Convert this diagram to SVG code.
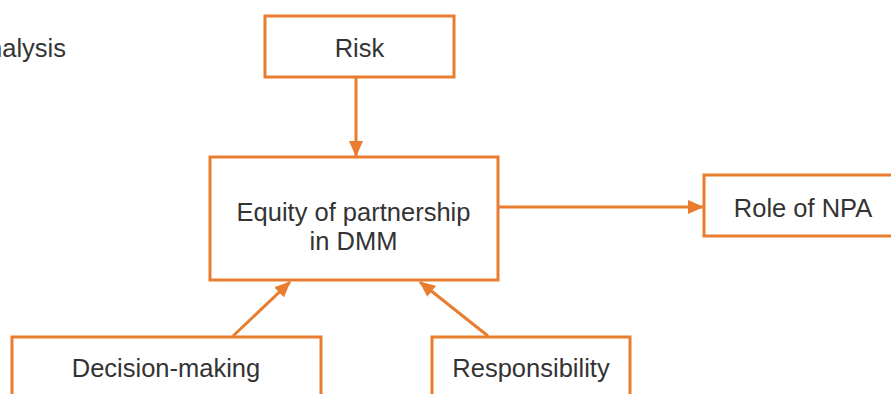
<svg xmlns="http://www.w3.org/2000/svg" width="891" height="394" viewBox="0 0 891 394">
<style>
.box{fill:#fff;stroke:#E97D2F;stroke-width:3}
.lbl{font-family:"Liberation Sans",Arial,sans-serif;font-size:25.5px;fill:#333;text-anchor:middle}
.conn{stroke:#E97D2F;stroke-width:3;fill:none;marker-end:url(#ah)}
</style>
<defs>
<marker id="ah" markerUnits="userSpaceOnUse" markerWidth="16" markerHeight="14" refX="15" refY="7" orient="auto">
<path d="M0,0 L16,7 L0,14 Z" fill="#E97D2F"/>
</marker>
</defs>
<rect width="891" height="394" fill="#fff"/>
<text class="lbl" x="66" y="57" style="text-anchor:end">analysis</text>
<g id="connectors">
<line class="conn" x1="356" y1="78" x2="356" y2="156"/>
<line class="conn" x1="498" y1="207" x2="703" y2="207"/>
<line class="conn" x1="233" y1="336" x2="290" y2="282"/>
<line class="conn" x1="488" y1="336" x2="420" y2="282"/>
</g>
<g id="risk">
<rect class="box" x="265" y="16" width="189" height="61"/>
<text class="lbl" x="359.5" y="57">Risk</text>
</g>
<g id="equity">
<rect class="box" x="210" y="157" width="288" height="123"/>
<text class="lbl" x="353.5" y="221">Equity of partnership</text>
<text class="lbl" x="353.5" y="250">in DMM</text>
</g>
<g id="npa">
<rect class="box" x="704" y="175" width="200" height="61"/>
<text class="lbl" x="803" y="217">Role of NPA</text>
</g>
<g id="decision">
<rect class="box" x="12" y="337" width="309" height="80"/>
<text class="lbl" x="166" y="377">Decision-making</text>
</g>
<g id="responsibility">
<rect class="box" x="432" y="337" width="198" height="80"/>
<text class="lbl" x="531" y="377">Responsibility</text>
</g>
</svg>
